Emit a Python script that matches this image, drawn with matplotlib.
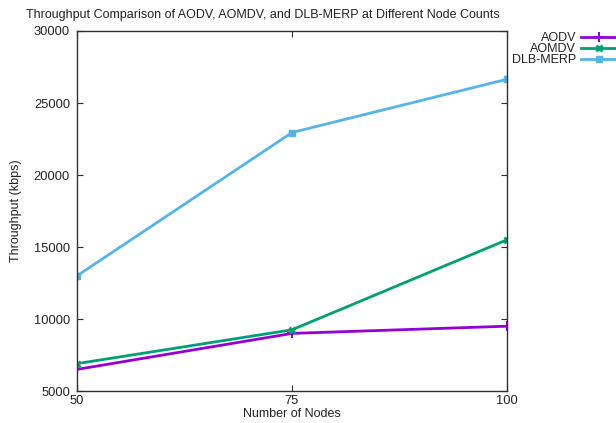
import matplotlib
matplotlib.use("Agg")
import matplotlib.pyplot as plt

nodes = [50, 75, 100]
aodv = [6500, 9000, 9500]
aomdv = [6900, 9250, 15500]
dlb_merp = [13000, 22950, 26650]
series_names = ["AODV", "AOMDV", "DLB-MERP"]
x_ticks = [50, 75, 100]
y_ticks = [5000, 10000, 15000, 20000, 25000, 30000]

plt.rcParams['font.family'] = ['Liberation Sans', 'DejaVu Sans']
plt.rcParams['font.size'] = 9

fig = plt.figure(figsize=(6.16, 4.23), dpi=100)
ax = fig.add_axes([77/616, 1-391/423, (507-77)/616, (391-31)/423])

ax.plot(nodes, aodv, color='#9400d3', lw=2, marker='+', ms=7, mew=1.5, label=series_names[0])
ax.plot(nodes, aomdv, color='#009e73', lw=2, marker='x', ms=5, mew=2, label=series_names[1])
ax.plot(nodes, dlb_merp, color='#56b4e9', lw=2, marker='s', ms=4, label=series_names[2])

ax.set_xlim(50, 100)
ax.set_ylim(5000, 30000)
ax.set_xticks(x_ticks)
ax.set_yticks(y_ticks)
ax.tick_params(direction='in', top=True, right=True, length=4, width=0.8, colors='#303030',
               labelcolor='#222222', labelsize=9.3)
ax.tick_params(axis='x', pad=3)
ax.tick_params(axis='y', pad=5)
for s in ax.spines.values():
    s.set_color('#303030')
    s.set_linewidth(1)

fig.text(263/616, 1-15/423, "Throughput Comparison of AODV, AOMDV, and DLB-MERP at Different Node Counts",
         ha='center', va='center', fontsize=9, color='#222222')
ax.set_xlabel("Number of Nodes", fontsize=9, color='#222222')
ax.xaxis.set_label_coords(0.5, -(414-391)/360, transform=ax.transAxes)
ax.xaxis.label.set_va('center')
ax.set_ylabel("Throughput (kbps)", fontsize=9, color='#222222')
ax.yaxis.set_label_coords(-(77-16)/430, 0.5, transform=ax.transAxes)
ax.yaxis.label.set_va('center')

leg = fig.legend(loc='upper right', bbox_to_anchor=(1.0, 1-32/423), frameon=False, markerfirst=False,
                 handlelength=2.8, labelspacing=-0.08, handletextpad=0.4, borderaxespad=0, borderpad=0,
                 fontsize=9)
for t in leg.get_texts():
    t.set_ha('right')
    t.set_color('#222222')

fig.savefig("out.png", dpi=100)
